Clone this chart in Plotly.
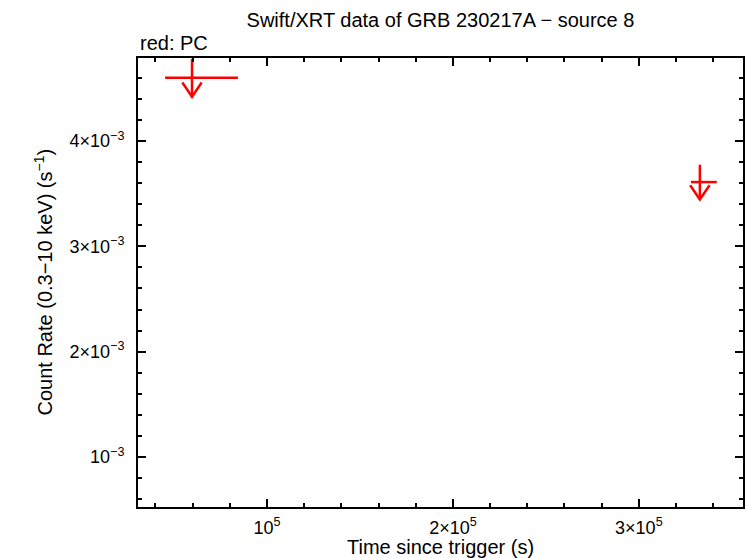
import plotly.graph_objects as go

# ---- data ----
TIME = [5.97e4, 3.328e5]          # s since trigger
TIME_NEG = [1.45e4, 4.8e3]        # lower x half-width
TIME_POS = [2.47e4, 9.1e3]        # upper x half-width
RATE = [4.60e-3, 3.61e-3]         # count-rate upper limits
RATE_ERR = [0.18e-3, 0.165e-3]    # vertical bar half-length

X_TICKVALS = [1e5, 2e5, 3e5]
X_TICKTEXT = ["10<sup>5</sup>", "2×10<sup>5</sup>", "3×10<sup>5</sup>"]
Y_TICKVALS = [1e-3, 2e-3, 3e-3, 4e-3]
Y_TICKTEXT = ["10<sup>−3</sup>", "2×10<sup>−3</sup>", "3×10<sup>−3</sup>", "4×10<sup>−3</sup>"]

X_RANGE = [3.065e4, 3.56e5]
Y_RANGE = [0.525e-3, 4.788e-3]

RED = "#ff0000"
FONT = "Liberation Sans, Arial, Helvetica, sans-serif"

# arrow head size (data units)
ARROW_DX = 5.2e3
ARROW_DY = 0.135e-3

fig = go.Figure()

fig.add_trace(go.Scatter(
    x=TIME, y=RATE, mode="markers",
    marker=dict(size=1, color=RED, opacity=0),
    error_x=dict(type="data", symmetric=False, array=TIME_POS, arrayminus=TIME_NEG,
                 color=RED, thickness=2.5, width=0),
    error_y=dict(type="data", array=RATE_ERR, color=RED, thickness=2.5, width=0),
    showlegend=False, hoverinfo="skip", cliponaxis=True,
))

# downward arrow heads ("V") at the lower end of each vertical bar
vx, vy = [], []
for t, r, e in zip(TIME, RATE, RATE_ERR):
    tip = r - e
    vx += [t - ARROW_DX, t, t + ARROW_DX, None]
    vy += [tip + ARROW_DY, tip, tip + ARROW_DY, None]
fig.add_trace(go.Scatter(x=vx, y=vy, mode="lines", line=dict(color=RED, width=2.5),
                         showlegend=False, hoverinfo="skip"))

axis_common = dict(
    showline=True, linecolor="black", linewidth=2, mirror="allticks",
    ticks="inside", ticklen=8, tickwidth=2, tickcolor="black",
    showgrid=False, zeroline=False, automargin=False,
    tickfont=dict(family=FONT, size=18, color="black"),
)

fig.update_xaxes(range=X_RANGE, tickmode="array", tickvals=X_TICKVALS, ticktext=X_TICKTEXT,
                 minor=dict(tickmode="linear", tick0=0, dtick=2e4, ticks="inside", ticklen=4,
                            tickwidth=2, tickcolor="black", showgrid=False),
                 ticklabelstandoff=3, **axis_common)
fig.update_yaxes(range=Y_RANGE, tickmode="array", tickvals=Y_TICKVALS, ticktext=Y_TICKTEXT,
                 minor=dict(tickmode="linear", tick0=0, dtick=0.2e-3, ticks="inside", ticklen=4,
                            tickwidth=2, tickcolor="black", showgrid=False),
                 ticklabelstandoff=8, **axis_common)

fig.update_layout(
    width=746, height=558,
    margin=dict(l=138, r=3, t=58, b=51),
    plot_bgcolor="white", paper_bgcolor="white",
    font=dict(family=FONT, size=20, color="black"),
    title=dict(text="Swift/XRT data of GRB 230217A − source 8", x=0.5, xref="paper",
               y=1 - 20 / 558, yref="container", yanchor="middle",
               font=dict(family=FONT, size=20, color="black")),
    annotations=[
        dict(text="red: PC", xref="paper", yref="paper", x=0, y=1, xanchor="left",
             yanchor="bottom", yshift=2, showarrow=False, font=dict(size=20)),
        dict(text="Time since trigger (s)", xref="paper", yref="paper", x=0.5, y=0,
             xanchor="center", yanchor="top", yshift=-27, showarrow=False, font=dict(size=20)),
        dict(text="Count Rate (0.3−10 keV) (s<sup>−1</sup>)", xref="paper", yref="paper",
             x=0, y=0.5, xanchor="center", yanchor="middle", xshift=-95, textangle=-90,
             showarrow=False, font=dict(size=20)),
    ],
)

fig.write_html("out.html", config={"displayModeBar": False},
               post_script="document.body.style.margin='0';")
